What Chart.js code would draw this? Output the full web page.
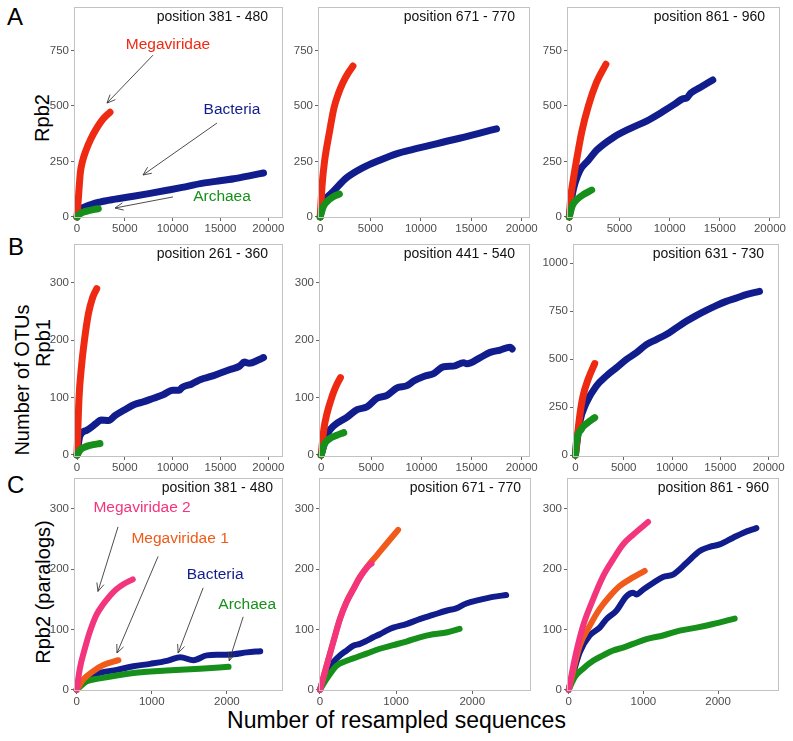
<!DOCTYPE html>
<html>
<head>
<meta charset="utf-8">
<script src="https://cdn.jsdelivr.net/npm/chart.js@4/dist/chart.umd.min.js"></script>
<style>
  body { margin: 0; background: #fff; width: 793px; height: 741px; position: relative; overflow: hidden;
         font-family: "Liberation Sans", Arial, sans-serif; }
  canvas { position: absolute; }
  .txt { position: absolute; color: #000; white-space: nowrap; line-height: 1; }
  .rot { transform: translate(-50%, -50%) rotate(-90deg); }
</style>
</head>
<body>
<div class="txt" style="left:7px;top:5px;font-size:24px">A</div>
<div class="txt" style="left:8px;top:235px;font-size:24px">B</div>
<div class="txt" style="left:7px;top:473px;font-size:24px">C</div>
<div class="txt rot" style="left:42px;top:118px;font-size:20px">Rpb2</div>
<div class="txt rot" style="left:22px;top:380px;font-size:20px">Number of OTUs</div>
<div class="txt rot" style="left:43px;top:343px;font-size:20px">Rpb1</div>
<div class="txt rot" style="left:43px;top:592px;font-size:20px">Rpb2 (paralogs)</div>
<div class="txt" style="left:0;width:793px;top:709px;font-size:23px;text-align:center">Number of resampled sequences</div>

<script>
// tick values
const xTicks20k = [0, 5000, 10000, 15000, 20000];
const xTicks2k = [0, 1000, 2000];
const yTicks750 = [0, 250, 500, 750];
const yTicks300 = [0, 100, 200, 300];
const yTicks1000 = [0, 250, 500, 750, 1000];

// [resampled sequences, OTUs]
// A - Rpb2
const a1Mega = [[0,0],[170,100],[350,200],[575,250],[940,300],[1430,350],[2060,400],[2700,440],[3450,472]];
const a1Bact = [[0,0],[300,30],[1000,48],[2400,67],[4000,80],[5900,93],[7500,105],[9400,120],[11000,133],[12900,150],[14500,160],[16400,172],[18000,185],[19500,198]];
const a1Arch = [[0,0],[300,13],[700,22],[1200,28],[1700,33],[2230,37]];
const a2Mega = [[0,0],[200,150],[430,250],[930,385],[1360,490],[1800,555],[2250,605],[2800,650],[3250,680]];
const a2Bact = [[0,0],[200,50],[600,84],[1260,113],[2590,175],[4250,222],[5900,255],[7560,284],[9220,304],[10880,322],[12540,341],[14200,358],[15850,378],[17500,397]];
const a2Arch = [[0,0],[300,45],[700,70],[1200,88],[1900,103]];
const a3Mega = [[0,0],[150,90],[400,170],[700,250],[1250,385],[1900,500],[2700,605],[3650,688]];
const a3Bact = [[0,0],[300,100],[565,151],[1060,210],[1900,255],[2720,300],[4390,358],[6050,398],[7700,432],[9370,476],[10500,508],[11300,532],[11700,536],[12100,558],[13000,582],[14300,617]];
const a3Arch = [[0,0],[300,50],[800,80],[1500,103],[2230,121]];

// B - Rpb1
const b1Mega = [[0,0],[210,99],[490,158],[770,199],[1190,246],[1640,275],[2060,290]];
const b1Bact = [[0,0],[300,33],[1000,43],[2000,55],[2500,61],[3300,60],[4000,69],[5000,79],[6000,88],[7000,93],[8000,99],[9000,105],[10000,113],[10700,113],[11000,118],[12000,124],[13000,132],[14000,137],[15000,143],[16000,149],[17000,155],[17500,162],[18000,160],[19000,166],[19500,170]];
const b1Arch = [[0,0],[400,10],[1000,15],[1700,18],[2400,20]];
const b2Mega = [[0,0],[265,45],[600,74],[1100,103],[1430,118],[1920,135]];
const b2Bact = [[0,0],[600,36],[1260,51],[2590,66],[3580,79],[4580,84],[5570,99],[6570,104],[7560,117],[8560,121],[9220,129],[10220,137],[11210,142],[12210,154],[13200,155],[14200,161],[14530,159],[15860,170],[16850,179],[17850,183],[18840,188],[19050,185]];
const b2Arch = [[0,0],[300,18],[800,28],[1500,34],[2250,39]];
const b3Mega = [[0,0],[450,204],[790,308],[1310,394],[2000,477]];
const b3Bact = [[0,0],[450,170],[1140,273],[2170,360],[3200,412],[4240,455],[5270,498],[6300,533],[7340,576],[8370,602],[9400,628],[10440,663],[11470,697],[12500,727],[13540,754],[14570,779],[15600,801],[16640,818],[17670,836],[19050,853]];
const b3Arch = [[0,0],[100,66],[620,135],[1310,170],[2000,195]];

// C - Rpb2 paralogs
const c1Mega2 = [[0,0],[44,36],[111,69],[178,97],[267,125],[356,142],[444,156],[533,167],[622,175],[747,183]];
const c1Mega1 = [[0,0],[89,17],[222,31],[356,41],[556,49]];
const c1Bact = [[0,0],[133,19],[311,28],[533,33],[756,39],[978,43],[1200,48],[1333,53],[1380,54],[1556,49],[1733,57],[1911,58],[2089,59],[2267,62],[2444,64]];
const c1Arch = [[0,0],[133,14],[311,19],[756,28],[1200,32],[1644,35],[2022,38]];
const c2Mega2 = [[0,0],[87,40],[175,79],[262,117],[349,145],[437,166],[524,186],[633,205],[677,209]];
const c2Mega1 = [[0,0],[87,40],[175,80],[262,118],[349,146],[437,167],[524,187],[633,206],[742,222],[873,242],[1026,265]];
const c2Bact = [[0,0],[87,29],[175,46],[262,57],[349,65],[437,73],[524,76],[611,81],[699,87],[786,92],[873,98],[961,103],[1135,109],[1310,117],[1485,124],[1659,131],[1790,135],[1921,143],[2096,149],[2271,154],[2446,157]];
const c2Arch = [[0,0],[87,18],[218,40],[349,48],[480,54],[611,60],[786,68],[961,74],[1135,80],[1310,87],[1485,92],[1659,95],[1834,101]];
const c3Mega2 = [[0,0],[80,51],[192,106],[326,150],[460,188],[594,216],[728,241],[862,257],[1062,278]];
const c3Mega1 = [[0,0],[147,73],[281,106],[415,134],[549,155],[683,172],[817,183],[1018,197]];
const c3Bact = [[0,0],[147,62],[281,90],[415,103],[504,117],[638,131],[772,155],[862,161],[906,158],[996,166],[1129,177],[1263,187],[1397,191],[1576,210],[1754,230],[1888,237],[2022,241],[2201,252],[2335,260],[2513,268]];
const c3Arch = [[0,0],[80,21],[192,35],[326,48],[460,57],[594,65],[728,70],[862,76],[1040,84],[1263,90],[1487,98],[1710,103],[1933,109],[2223,118]];

// annotation text + arrow (data units): [label, colour key, textX, textY, fromX, fromY, toX, toY]
const a1Notes = [
  ['Megaviridae', 'red', 9514, 774, 7946, 729, 3136, 513],
  ['Bacteria', 'navy', 16205, 482, 14636, 423, 6900, 189],
  ['Archaea', 'green', 15159, 90, 10036, 90, 3972, 40]
];
const c1Notes = [
  ['Megaviridae 2', 'pink', 871, 302, 551, 270, 284, 163],
  ['Megaviridae 1', 'orange', 1377, 250, 1084, 221, 537, 61],
  ['Bacteria', 'navy', 1844, 191, 1684, 169, 1351, 61],
  ['Archaea', 'green', 2271, 141, 2217, 121, 2031, 48]
];

const COL = { red: '#ee2a12', navy: '#111d8c', green: '#17901b', pink: '#f2357d', orange: '#f05a1a' };
const FONT = '"Liberation Sans", Arial, sans-serif';

const panels = [
  { box: [74, 7, 283, 218], x: [-314, 21537], y: [-5, 946], xt: xTicks20k, yt: yTicks750, title: 'position 381 - 480', inset: 15, lw: 7,
    series: [[a1Arch, 'green'], [a1Mega, 'red'], [a1Bact, 'navy']], notes: a1Notes },
  { box: [318, 7, 530, 218], x: [-219, 20826], y: [-5, 946], xt: xTicks20k, yt: yTicks750, title: 'position 671 - 770', inset: 15, lw: 7,
    series: [[a2Arch, 'green'], [a2Mega, 'red'], [a2Bact, 'navy']] },
  { box: [567, 7, 780, 218], x: [-229, 21000], y: [-5, 946], xt: xTicks20k, yt: yTicks750, title: 'position 861 - 960', inset: 15, lw: 7,
    series: [[a3Arch, 'green'], [a3Mega, 'red'], [a3Bact, 'navy']] },
  { box: [74, 244, 283, 457], x: [-314, 21537], y: [-3.5, 368], xt: xTicks20k, yt: yTicks300, title: 'position 261 - 360', inset: 15, lw: 7,
    series: [[b1Arch, 'green'], [b1Mega, 'red'], [b1Bact, 'navy']] },
  { box: [319, 244, 530, 457], x: [-219, 20826], y: [-3.5, 368], xt: xTicks20k, yt: yTicks300, title: 'position 441 - 540', inset: 15, lw: 7,
    series: [[b2Arch, 'green'], [b2Mega, 'red'], [b2Bact, 'navy']] },
  { box: [573, 244, 779, 457], x: [-248, 21070], y: [-10, 1100], xt: xTicks20k, yt: yTicks1000, title: 'position 631 - 730', inset: 15, lw: 7,
    series: [[b3Arch, 'green'], [b3Mega, 'red'], [b3Bact, 'navy']] },
  { box: [74, 478, 283, 691], x: [-35, 2747], y: [-2, 351], xt: xTicks2k, yt: yTicks300, title: 'position 381 - 480', inset: 10, lw: 6,
    series: [[c1Mega2, 'pink'], [c1Mega1, 'orange'], [c1Arch, 'green'], [c1Bact, 'navy']], notes: c1Notes },
  { box: [319, 478, 531, 691], x: [-13, 2772], y: [-2, 351], xt: xTicks2k, yt: yTicks300, title: 'position 671 - 770', inset: 10, lw: 6,
    series: [[c2Mega2, 'pink'], [c2Mega1, 'orange'], [c2Arch, 'green'], [c2Bact, 'navy']] },
  { box: [567, 478, 779, 691], x: [-23, 2816], y: [-2, 351], xt: xTicks2k, yt: yTicks300, title: 'position 861 - 960', inset: 10, lw: 6,
    series: [[c3Mega2, 'pink'], [c3Mega1, 'orange'], [c3Arch, 'green'], [c3Bact, 'navy']] }
];

const LEFT = 44, RIGHT = 20, TOP = 8, BOTTOM = 24;

function drawArrow(ctx, x1, y1, x2, y2) {
  const ang = Math.atan2(y2 - y1, x2 - x1);
  const len = 9, spread = 0.42;
  ctx.beginPath();
  ctx.moveTo(x1, y1);
  ctx.lineTo(x2, y2);
  ctx.moveTo(x2 - len * Math.cos(ang - spread), y2 - len * Math.sin(ang - spread));
  ctx.lineTo(x2, y2);
  ctx.lineTo(x2 - len * Math.cos(ang + spread), y2 - len * Math.sin(ang + spread));
  ctx.stroke();
}

panels.forEach(p => {
  const [l, t, r, b] = p.box;
  const cv = document.createElement('canvas');
  cv.width = (r - l) + LEFT + RIGHT;
  cv.height = (b - t) + TOP + BOTTOM;
  cv.style.left = (l - LEFT) + 'px';
  cv.style.top = (t - TOP) + 'px';
  document.body.appendChild(cv);

  const decor = {
    id: 'decor',
    afterDatasetsDraw(chart) {
      const { ctx, chartArea: a, scales } = chart;
      ctx.save();
      ctx.strokeStyle = '#c2c2c2';
      ctx.lineWidth = 1;
      ctx.strokeRect(Math.round(a.left) + 0.5, Math.round(a.top) + 0.5, Math.round(a.right - a.left) - 1, Math.round(a.bottom - a.top) - 1);
      ctx.fillStyle = '#111';
      ctx.font = '14px ' + FONT;
      ctx.textAlign = 'right';
      ctx.textBaseline = 'middle';
      ctx.fillText(p.title, a.right - p.inset, a.top + 10.5);
      (p.notes || []).forEach(n => {
        const px = v => scales.x.getPixelForValue(v);
        const py = v => scales.y.getPixelForValue(v);
        ctx.fillStyle = COL[n[1]];
        ctx.font = '15.5px ' + FONT;
        ctx.textAlign = 'center';
        ctx.fillText(n[0], px(n[2]), py(n[3]));
        ctx.strokeStyle = '#3a3a3a';
        ctx.lineWidth = 0.9;
        drawArrow(ctx, px(n[4]), py(n[5]), px(n[6]), py(n[7]));
      });
      ctx.restore();
    }
  };

  const fixAxis = (size, horiz) => scale => {
    if (horiz) scale.height = size; else scale.width = size;
    scale.paddingLeft = scale.paddingRight = scale.paddingTop = scale.paddingBottom = 0;
  };
  const setTicks = vals => scale => { scale.ticks = vals.map(v => ({ value: v })); };

  new Chart(cv, {
    type: 'line',
    data: {
      datasets: p.series.map(([pts, key]) => ({
        data: pts,
        borderColor: COL[key],
        backgroundColor: COL[key],
        borderWidth: p.lw,
        pointRadius: 0,
        cubicInterpolationMode: 'monotone',
        borderCapStyle: 'round',
        borderJoinStyle: 'round',
        clip: false,
        fill: false
      }))
    },
    options: {
      responsive: false,
      animation: false,
      devicePixelRatio: 1,
      layout: { padding: { top: TOP, right: RIGHT, left: 0, bottom: 0 } },
      plugins: { legend: { display: false }, tooltip: { enabled: false } },
      scales: {
        x: {
          type: 'linear', min: p.x[0], max: p.x[1],
          afterFit: fixAxis(BOTTOM, true),
          afterBuildTicks: setTicks(p.xt),
          border: { display: false },
          grid: { drawOnChartArea: false, drawTicks: true, tickLength: 3, color: '#666' },
          ticks: { autoSkip: false, maxRotation: 0, padding: 1, color: '#4d4d4d', font: { family: FONT, size: 11.5 }, callback: v => String(v) }
        },
        y: {
          type: 'linear', min: p.y[0], max: p.y[1],
          afterFit: fixAxis(LEFT, false),
          afterBuildTicks: setTicks(p.yt),
          border: { display: false },
          grid: { drawOnChartArea: false, drawTicks: true, tickLength: 3, color: '#666' },
          ticks: { autoSkip: false, padding: 2, color: '#4d4d4d', font: { family: FONT, size: 11.5 }, callback: v => String(v) }
        }
      }
    },
    plugins: [decor]
  });
});
</script>
</body>
</html>
